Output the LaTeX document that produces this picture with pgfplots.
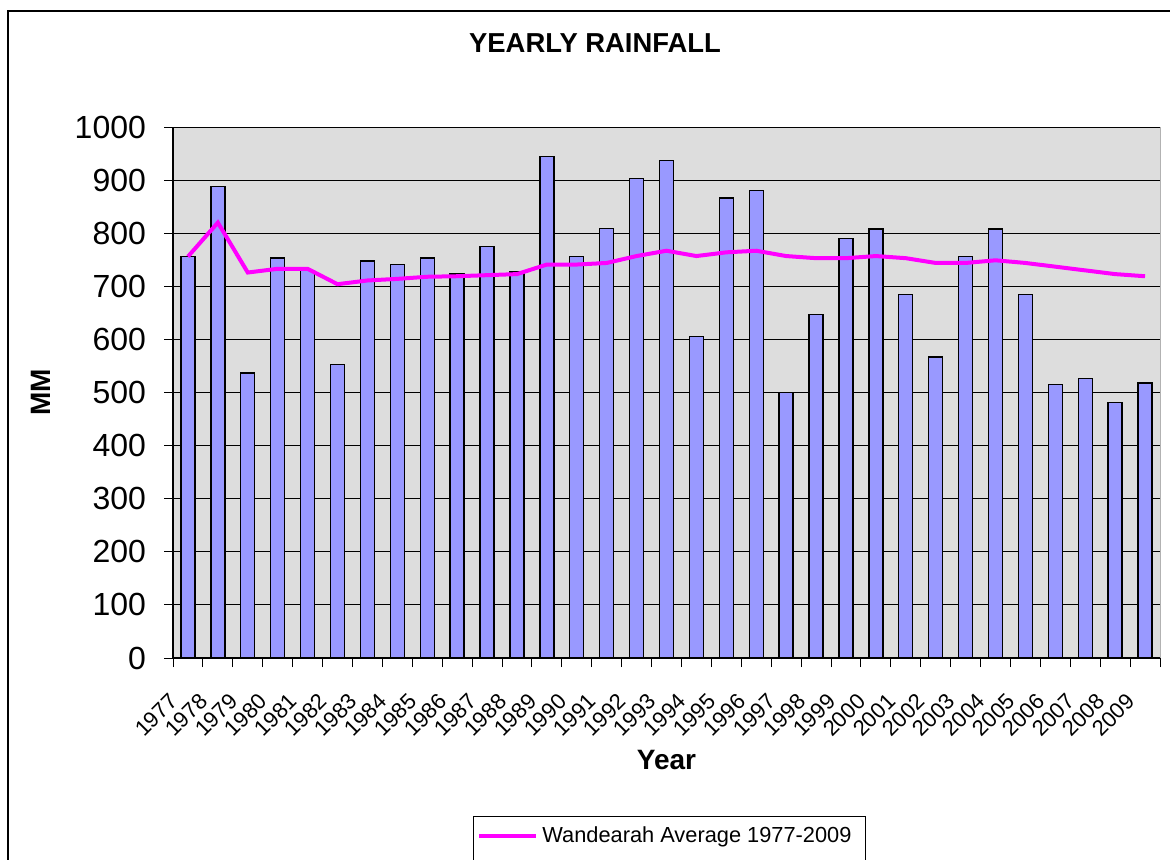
\documentclass[border=0pt]{standalone}
\usepackage{fontspec}
\setmainfont{Liberation Sans}
\usepackage{pgfplots}
\pgfplotsset{compat=1.18}
\definecolor{plotbg}{RGB}{221,221,221}
\definecolor{barfill}{RGB}{153,153,255}
\definecolor{avgline}{RGB}{255,0,255}
\begin{document}
\begin{tikzpicture}
\useasboundingbox (0,0) rectangle (585pt,-429.5pt);
\clip (0,0) rectangle (585pt,-429.5pt);
\draw[line width=0.8pt] (4pt,-5.5pt) rectangle (600pt,-450pt);
\begin{axis}[
  at={(86.5pt,-329pt)}, anchor=south west,
  scale only axis, width=493.5pt, height=265.5pt,
  xmin=-0.5, xmax=32.5, ymin=0, ymax=1000,
  axis background/.style={fill=plotbg, draw=gray!60},
  axis x line=bottom, axis y line=left,
  axis line style={-, black, line width=0.6pt},
  xtick={-0.5,0.5,1.5,2.5,3.5,4.5,5.5,6.5,7.5,8.5,9.5,10.5,11.5,12.5,13.5,14.5,15.5,16.5,17.5,18.5,19.5,20.5,21.5,22.5,23.5,24.5,25.5,26.5,27.5,28.5,29.5,30.5,31.5,32.5},
  xticklabels={1977,1978,1979,1980,1981,1982,1983,1984,1985,1986,1987,1988,1989,1990,1991,1992,1993,1994,1995,1996,1997,1998,1999,2000,2001,2002,2003,2004,2005,2006,2007,2008,2009,{}},
  ytick={0,100,...,1000},
  tick align=outside,
  major tick length=4.5pt,
  tick style={black, line width=0.5pt},
  ymajorgrids, grid style={black, line width=0.5pt},
  /pgf/number format/assume math mode=true,
  /pgf/number format/1000 sep={},
  xticklabel shift=7pt,
  yticklabel shift=5.5pt,
  xticklabel style={font=\fontsize{11}{13}\selectfont, xshift=-2.5pt, yshift=-4pt, rotate=45, anchor=north east, inner sep=1pt},
  yticklabel style={font=\fontsize{16}{18}\selectfont},
  xlabel={Year}, ylabel={MM},
  xlabel style={at={(axis description cs:0.5,-0.192)}, anchor=center, font=\bfseries\fontsize{14}{16}\selectfont},
  ylabel style={at={(axis description cs:-0.1337,0.5)}, anchor=center, rotate=0, font=\bfseries\fontsize{14}{16}\selectfont},
  title={YEARLY RAINFALL},
  title style={at={(axis description cs:0.4276,1.1356)}, anchor=center, font=\bfseries\fontsize{13.7}{15}\selectfont},
  legend style={at={(axis description cs:0.308,-0.3352)}, anchor=west, draw=none, fill=none, inner sep=0pt, font=\fontsize{10.9}{13}\selectfont, /tikz/every even column/.append style={column sep=0pt}},
  legend image code/.code={\draw[#1] (0pt,0pt) -- (28.5pt,0pt);},
  clip=false,
]
\addplot[ybar, bar width=7pt, fill=barfill, draw=black, line width=0.7pt, forget plot] coordinates {
(0,756) (1,888) (2,537) (3,753) (4,730) (5,553) (6,748) (7,741) (8,753) (9,723) (10,775)
(11,727) (12,945) (13,756) (14,809) (15,903) (16,937) (17,605) (18,866) (19,881) (20,500)
(21,647) (22,790) (23,808) (24,685) (25,567) (26,756) (27,808) (28,685) (29,515) (30,526)
(31,481) (32,518)};
\addplot[avgline, line width=2pt, mark=none] coordinates {
(0,756) (1,820) (2,726) (3,733) (4,733) (5,704) (6,711) (7,714) (8,718) (9,719) (10,721)
(11,723) (12,741) (13,741) (14,744) (15,757) (16,767) (17,757) (18,764) (19,767) (20,757)
(21,753) (22,753) (23,757) (24,753) (25,744) (26,744) (27,749) (28,744) (29,737) (30,730)
(31,723) (32,719)};
\addlegendentry{Wandearah Average 1977-2009}
\end{axis}
\draw[line width=0.5pt] (236.5pt,-440pt) -- (236.5pt,-408pt) -- (432.5pt,-408pt) -- (432.5pt,-440pt);
\end{tikzpicture}
\end{document}
